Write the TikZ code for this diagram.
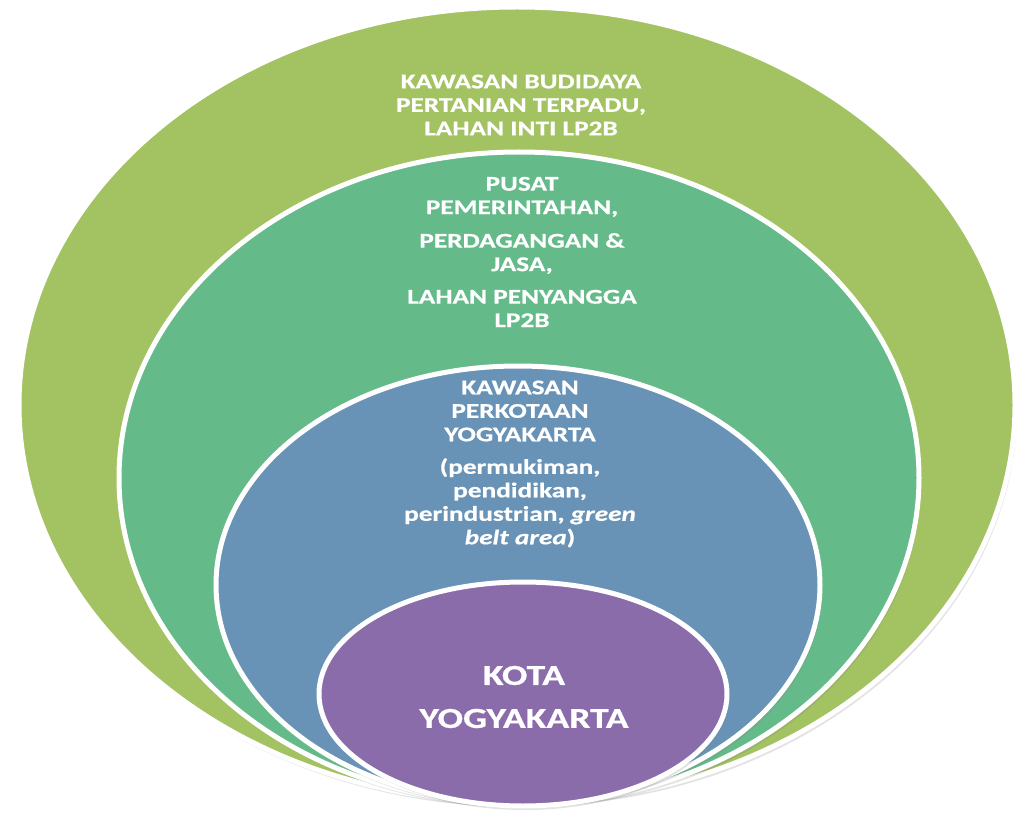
\documentclass[tikz,border=0pt]{standalone}
\usepackage{fontspec}
\setmainfont{Carlito}[FakeStretch=1.3, BoldFeatures={FakeBold=0.6}, BoldItalicFeatures={FakeBold=0.6}]
\usetikzlibrary{shadows}
\definecolor{ringA}{HTML}{A3C262}
\definecolor{ringB}{HTML}{65BA8A}
\definecolor{ringC}{HTML}{6893B6}
\definecolor{ringD}{HTML}{8A6CAA}
\tikzset{
  ring/.style={draw=white, line width=5pt, drop shadow={opacity=0.22, shadow xshift=2pt, shadow yshift=-4pt}},
  label/.style={text=white, align=center, font=\bfseries\fontsize{21}{23.5}\selectfont, inner sep=0pt},
  biglabel/.style={text=white, align=center, font=\bfseries\fontsize{29}{43}\selectfont, inner sep=0pt}
}
\begin{document}
\begin{tikzpicture}[x=1pt,y=-1pt]
\useasboundingbox (0,0) rectangle (1021,813);
\path[ring, fill=ringA] (517,405) ellipse [x radius=498, y radius=398];
\path[ring, fill=ringB] (519,478) ellipse [x radius=400, y radius=326];
\path[ring, fill=ringC] (518,585) ellipse [x radius=302, y radius=219];
\path[ring, fill=ringD] (523,694) ellipse [x radius=204, y radius=112];
\node[label] (outer) at (521,105) {KAWASAN BUDIDAYA\\PERTANIAN TERPADU,\\LAHAN INTI LP2B};
\node[label] (middle) at (522,252) {PUSAT\\PEMERINTAHAN,\\[10pt]PERDAGANGAN \&\\JASA,\\[9pt]LAHAN PENYANGGA\\LP2B};
\node[label] (inner) at (520,464) {KAWASAN\\PERKOTAAN\\YOGYAKARTA\\[9pt](permukiman,\\pendidikan,\\perindustrian, \textit{green}\\\textit{belt area})};
\node[biglabel] (core) at (524,697) {KOTA\\YOGYAKARTA};
\end{tikzpicture}
\end{document}
